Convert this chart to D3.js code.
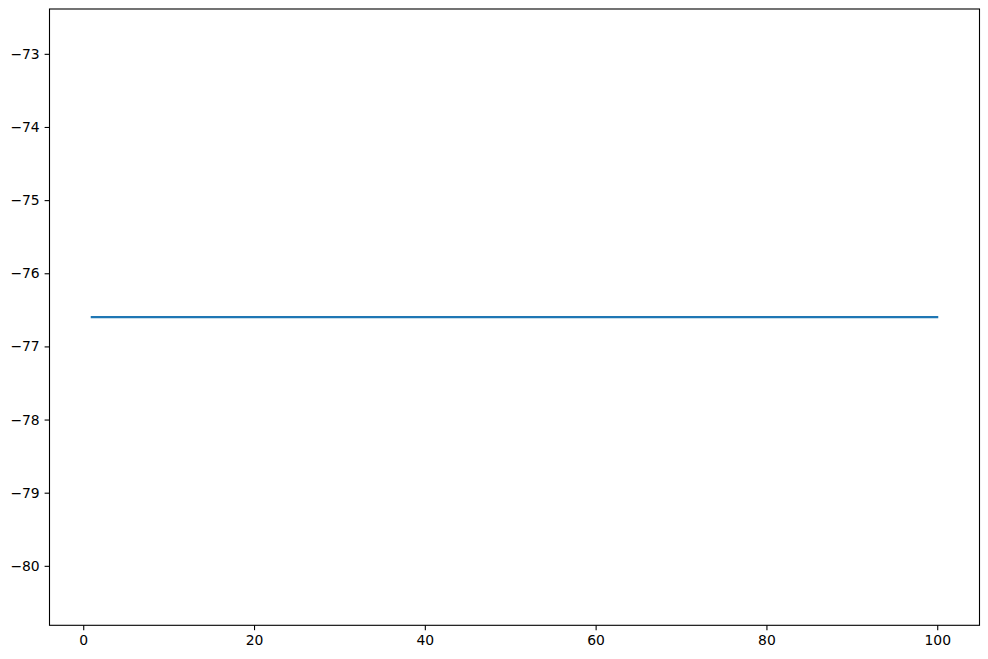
<!DOCTYPE html>
<html><head><meta charset="utf-8">
<script src="https://cdn.jsdelivr.net/npm/d3@7"></script>
<style>body{margin:0;background:#fff}svg{display:block}text{font-family:"DejaVu Sans",sans-serif}</style>
</head><body>
<script>
const xValues = d3.range(1, 101);
const yValue = -76.6;
const seriesValues = xValues.map(() => yValue);
const xTicks = [0, 20, 40, 60, 80, 100];
const yTicks = [-80, -79, -78, -77, -76, -75, -74, -73];

const W = 988, H = 659;
const m = {left: 49.5, right: 988 - 979.5, top: 9, bottom: 659 - 625.3};
const svg = d3.select("body").append("svg").attr("width", W).attr("height", H);

const xPad = (100 - 1) * 0.05;
const x = d3.scaleLinear().domain([1 - xPad, 100 + xPad]).range([m.left, W - m.right]);
const yLo = yValue - Math.abs(yValue) * 0.05, yHi = yValue + Math.abs(yValue) * 0.05;
const yPad = (yHi - yLo) * 0.05;
const y = d3.scaleLinear().domain([yLo - yPad, yHi + yPad]).range([H - m.bottom, m.top]);

const fmt = d => d < 0 ? "\u2212" + Math.abs(d) : String(d);

const gx = svg.append("g").attr("transform", `translate(0,${H - m.bottom})`)
  .call(d3.axisBottom(x).tickValues(xTicks).tickFormat(fmt).tickSize(4.9).tickPadding(4.9));
const gy = svg.append("g").attr("transform", `translate(${m.left},0)`)
  .call(d3.axisLeft(y).tickValues(yTicks).tickFormat(fmt).tickSize(4.9).tickPadding(4.9));
[gx, gy].forEach(g => {
  g.select(".domain").remove();
  g.selectAll("line").attr("stroke", "#000").attr("stroke-width", 1.1);
  g.selectAll("text").attr("font-size", "13.9px").attr("fill", "#000").attr("font-family", "DejaVu Sans");
});

svg.append("path")
  .datum(xValues.map((d, i) => [d, seriesValues[i]]))
  .attr("fill", "none").attr("stroke", "#1f77b4").attr("stroke-width", 2.08)
  .attr("stroke-linecap", "square")
  .attr("d", d3.line().x(d => x(d[0])).y(d => y(d[1])));

svg.append("rect")
  .attr("x", m.left).attr("y", m.top)
  .attr("width", W - m.right - m.left).attr("height", H - m.bottom - m.top)
  .attr("fill", "none").attr("stroke", "#000").attr("stroke-width", 1.1);
</script>
</body></html>
